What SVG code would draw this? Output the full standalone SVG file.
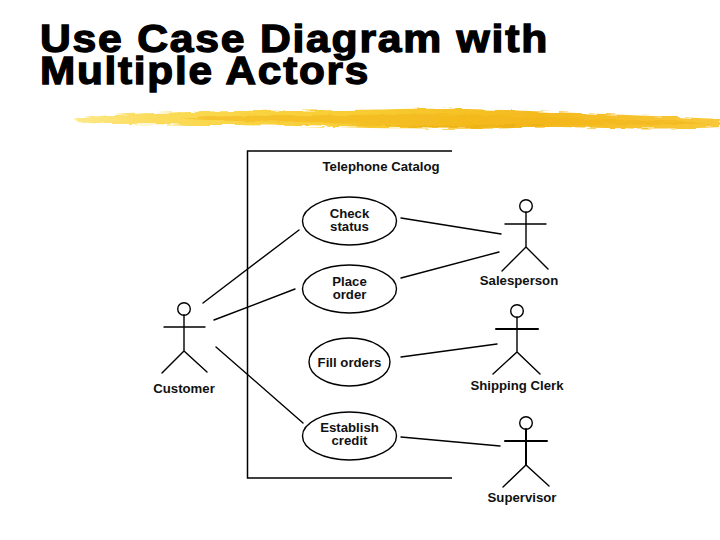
<svg xmlns="http://www.w3.org/2000/svg" width="720" height="540" viewBox="0 0 720 540">
<style>
.title{font-family:"Liberation Sans",Arial,sans-serif;font-weight:700;font-size:39px;fill:#000;stroke:#000;stroke-width:1.3px;letter-spacing:1.6px}
.lbl{font-family:"Liberation Sans",Arial,sans-serif;font-weight:700;font-size:13.2px;fill:#111;text-anchor:middle}
.ln{stroke:#000;stroke-width:1.4;fill:none;stroke-linecap:round}
.uc{stroke:#000;stroke-width:1.4;fill:#fff}
</style>
<defs>
<linearGradient id="brush" x1="73" y1="0" x2="720" y2="0" gradientUnits="userSpaceOnUse">
<stop offset="0" stop-color="#fde98a"/><stop offset=".12" stop-color="#fbdc5c"/><stop offset=".3" stop-color="#f9d23f"/><stop offset=".5" stop-color="#f7c92e"/><stop offset=".72" stop-color="#f4ba1e"/><stop offset="1" stop-color="#f8c83a"/>
</linearGradient>
<filter id="rough" x="-2%" y="-40%" width="104%" height="180%">
<feTurbulence type="fractalNoise" baseFrequency="0.05 0.4" numOctaves="3" seed="4"/>
<feDisplacementMap in="SourceGraphic" scale="5" xChannelSelector="R" yChannelSelector="G"/>
</filter>
</defs>
<rect width="720" height="540" fill="#fff"/>
<g id="title">
<text class="title" x="40" y="52" textLength="509" lengthAdjust="spacingAndGlyphs">Use Case Diagram with</text>
<text class="title" x="40" y="84" textLength="330" lengthAdjust="spacingAndGlyphs">Multiple Actors</text>
</g>
<g id="brush-stroke" filter="url(#rough)">
<path d="M73 120 C95 115 140 113 190 112 C250 110 330 111 400 109 C460 108 510 110 552 112 C600 114 660 116 720 119 L720 127 C670 130 610 128 560 127 C500 129 430 129 370 128 C310 126 250 125 190 125 C150 124 105 125 78 122 Z" fill="url(#brush)"/>
<path d="M180 118 C260 114 340 116 410 114 C470 114 520 116 560 118 C610 120 660 121 715 123 C650 126 590 124 530 126 C450 126 380 125 310 122 C270 121 220 122 180 118 Z" fill="#f2b518" opacity=".55"/>
<path d="M330 123 C400 126 470 127 545 124 C520 129 420 129 330 123 Z" fill="#e8a90f" opacity=".6"/>
</g>
<g id="system-boundary">
<path d="M452 151 H247.5 V478 H452" fill="none" stroke="#000" stroke-width="1.5"/>
<text class="lbl" x="381" y="171">Telephone Catalog</text>
</g>
<g id="uc-check"><ellipse class="uc" cx="349.5" cy="221" rx="47" ry="24"/><text class="lbl" x="349.5" y="218">Check</text><text class="lbl" x="349.5" y="231">status</text></g>
<g id="uc-place"><ellipse class="uc" cx="349.5" cy="289" rx="47" ry="24"/><text class="lbl" x="349.5" y="286">Place</text><text class="lbl" x="349.5" y="299">order</text></g>
<g id="uc-fill"><ellipse class="uc" cx="349.5" cy="362" rx="40.5" ry="24"/><text class="lbl" x="349.5" y="367">Fill orders</text></g>
<g id="uc-establish"><ellipse class="uc" cx="349.5" cy="436" rx="47" ry="24"/><text class="lbl" x="349.5" y="432">Establish</text><text class="lbl" x="349.5" y="445">credit</text></g>
<g id="connectors">
<path class="ln" d="M203 303 L299 230"/>
<path class="ln" d="M214 320 L295 289"/>
<path class="ln" d="M216 347 L303 423"/>
<path class="ln" d="M401 218 L501 234"/>
<path class="ln" d="M401 278 L499 252"/>
<path class="ln" d="M401 357 L497 344"/>
<path class="ln" d="M401 437 L500 446"/>
</g>
<g id="actor-customer"><circle class="uc" cx="184" cy="309" r="6.3"/><path class="ln" d="M184 315 V351 M164 327 H205 M162 373 L184 351 L207 372"/><text class="lbl" x="184" y="393">Customer</text></g>
<g id="actor-salesperson"><circle class="uc" cx="526" cy="206" r="6.3"/><path class="ln" d="M526 212 V247 M505 224 H546 M502 271 L526 247 L548 269"/><text class="lbl" x="519" y="285">Salesperson</text></g>
<g id="actor-shipping"><circle class="uc" cx="517" cy="311" r="6.3"/><path class="ln" d="M517 317 V352 M493 374 L517 352 L540 374"/><path class="ln" style="stroke-width:2" d="M496 329 H538"/><text class="lbl" x="517" y="390">Shipping Clerk</text></g>
<g id="actor-supervisor"><circle class="uc" cx="526" cy="423" r="6.3"/><path class="ln" style="stroke-width:2" d="M526 429 V465 M505 441 H547"/><path class="ln" d="M503 487 L526 465 L549 486"/><text class="lbl" x="522" y="502">Supervisor</text></g>
</svg>
